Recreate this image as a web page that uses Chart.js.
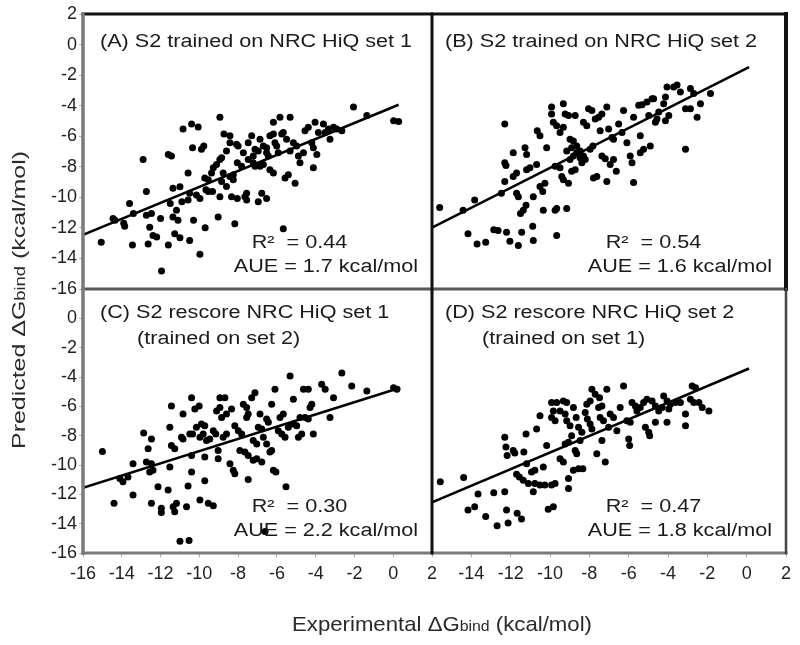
<!DOCTYPE html>
<html><head><meta charset="utf-8">
<script src="https://cdn.jsdelivr.net/npm/chart.js@4.4.1/dist/chart.umd.min.js"></script>
<style>html,body{margin:0;background:#fff}canvas{display:block}</style>
</head><body>
<canvas id="c" width="800" height="645"></canvas>
<script>
// experimental (x) vs predicted (y), kcal/mol
const setA=[[-15.06,-12.94],[-14.45,-11.39],[-14.35,-11.5],[-13.9,-11.7],[-13.85,-11.9],[-13.45,-13.12],[-13.6,-10.4],[-13.4,-11.06],[-12.9,-7.52],[-12.73,-9.62],[-12.73,-11.17],[-12.64,-13.05],[-12.56,-11.95],[-12.47,-11.06],[-12.39,-12.5],[-12.2,-12.6],[-11.95,-14.82],[-12.0,-11.39],[-11.6,-13.12],[-11.6,-7.19],[-11.44,-7.3],[-11.5,-10.4],[-11.36,-9.4],[-11.0,-9.3],[-11.36,-11.28],[-11.27,-12.39],[-11.0,-12.65],[-11.18,-10.84],[-11.1,-11.5],[-10.9,-10.29],[-10.84,-5.53],[-10.58,-8.4],[-10.58,-10.18],[-10.5,-9.73],[-10.5,-12.83],[-10.4,-5.2],[-10.06,-5.4],[-10.35,-6.75],[-10.3,-11.5],[-10.15,-9.84],[-9.97,-10.07],[-9.97,-13.72],[-9.89,-6.86],[-9.77,-6.64],[-9.7,-11.99],[-9.72,-8.74],[-9.54,-8.85],[-9.66,-9.51],[-9.54,-9.62],[-9.32,-9.62],[-9.37,-8.4],[-9.28,-8.07],[-9.11,-7.85],[-9.03,-11.28],[-8.94,-7.52],[-8.85,-7.41],[-8.94,-9.96],[-8.94,-4.76],[-8.85,-8.96],[-8.6,-9.29],[-8.77,-8.4],[-8.73,-5.86],[-8.42,-5.97],[-8.6,-6.97],[-8.42,-6.42],[-8.42,-8.63],[-8.25,-8.52],[-8.34,-9.96],[-8.25,-8.85],[-8.17,-11.73],[-8.08,-6.53],[-8.0,-6.64],[-8.04,-7.74],[-8.04,-10.07],[-7.82,-7.96],[-7.73,-7.08],[-7.65,-9.96],[-7.56,-9.73],[-7.56,-10.18],[-7.48,-6.42],[-7.3,-5.97],[-7.48,-7.52],[-7.22,-7.3],[-7.22,-7.74],[-7.13,-7.96],[-7.13,-6.86],[-6.96,-6.97],[-6.96,-10.29],[-6.87,-6.2],[-6.87,-7.96],[-6.7,-7.85],[-6.78,-9.73],[-6.53,-10.07],[-6.7,-6.64],[-6.53,-6.75],[-6.53,-7.08],[-6.44,-7.3],[-6.36,-5.97],[-6.18,-5.86],[-6.36,-8.19],[-6.18,-8.4],[-6.18,-5.09],[-6.1,-6.42],[-6.01,-6.64],[-5.93,-7.08],[-5.84,-4.76],[-5.32,-4.76],[-5.75,-5.86],[-5.67,-5.75],[-5.67,-12.06],[-5.58,-8.74],[-5.41,-8.52],[-5.5,-6.2],[-5.32,-6.97],[-5.06,-9.07],[-5.15,-6.42],[-4.98,-6.64],[-4.89,-7.3],[-4.81,-7.74],[-4.63,-7.08],[-4.55,-5.64],[-4.38,-5.42],[-4.2,-6.42],[-4.12,-6.75],[-4.12,-8.07],[-4.03,-5.09],[-3.94,-7.19],[-3.86,-5.75],[-3.6,-5.2],[-3.51,-5.75],[-3.34,-5.53],[-3.26,-6.2],[-3.08,-5.42],[-2.91,-5.53],[-2.65,-5.64],[-2.05,-4.09],[-1.36,-4.65],[0.02,-4.98],[0.28,-5.04]];
const setB=[[-15.61,-10.66],[-14.42,-10.84],[-13.83,-10.18],[-14.17,-12.39],[-13.71,-13.05],[-13.27,-12.94],[-12.86,-12.12],[-12.64,-12.17],[-12.47,-9.73],[-12.3,-5.2],[-12.3,-7.74],[-12.24,-7.92],[-12.3,-8.96],[-11.87,-8.63],[-12.21,-12.28],[-12.04,-12.88],[-11.61,-13.16],[-11.87,-7.08],[-11.7,-8.4],[-11.7,-9.73],[-11.61,-9.96],[-11.44,-12.28],[-11.36,-10.84],[-11.22,-10.51],[-11.5,-11.06],[-11.27,-6.75],[-11.19,-7.19],[-11.19,-8.19],[-11.02,-8.07],[-10.88,-11.9],[-10.85,-9.96],[-10.85,-12.83],[-10.68,-7.85],[-10.65,-5.64],[-10.51,-5.97],[-10.51,-9.29],[-10.37,-9.62],[-10.34,-10.84],[-10.26,-9.07],[-10.17,-6.75],[-9.92,-4.09],[-9.92,-4.54],[-9.83,-5.09],[-9.66,-5.31],[-9.74,-10.84],[-9.66,-10.73],[-9.74,-7.96],[-9.49,-8.07],[-9.66,-12.5],[-9.49,-5.75],[-9.32,-5.42],[-9.32,-3.87],[-9.23,-4.54],[-9.06,-4.65],[-9.4,-8.63],[-9.32,-8.85],[-9.15,-10.73],[-9.15,-6.97],[-8.9,-6.75],[-9.06,-9.07],[-8.98,-6.2],[-8.81,-6.31],[-8.98,-7.52],[-8.81,-7.3],[-8.64,-7.08],[-8.9,-8.3],[-8.72,-8.19],[-8.72,-4.65],[-8.64,-6.64],[-8.47,-6.97],[-8.47,-7.41],[-8.3,-7.3],[-8.38,-7.74],[-8.21,-7.52],[-8.3,-5.09],[-8.13,-5.31],[-8.04,-4.2],[-7.87,-4.31],[-7.96,-6.86],[-7.82,-6.64],[-7.79,-8.74],[-7.62,-8.63],[-7.7,-4.87],[-7.53,-4.76],[-7.45,-5.64],[-7.36,-7.3],[-7.19,-7.48],[-7.36,-4.54],[-7.11,-8.96],[-7.11,-4.09],[-7.02,-5.53],[-6.85,-6.08],[-6.77,-6.2],[-6.94,-7.85],[-6.77,-7.52],[-6.63,-8.3],[-6.51,-5.2],[-6.34,-5.75],[-6.26,-4.31],[-6.09,-6.42],[-5.92,-7.3],[-5.83,-7.74],[-5.75,-9.03],[-5.75,-4.76],[-5.49,-3.98],[-5.32,-3.94],[-5.41,-5.97],[-5.41,-7.08],[-5.24,-6.86],[-5.07,-3.76],[-4.81,-3.54],[-4.98,-4.65],[-4.9,-6.64],[-4.73,-3.54],[-4.64,-5.09],[-4.56,-4.87],[-4.47,-4.42],[-4.22,-3.87],[-4.13,-3.43],[-4.05,-2.77],[-4.13,-4.98],[-3.96,-4.65],[-3.71,-2.77],[-3.54,-2.65],[-3.37,-3.1],[-3.11,-6.86],[-3.11,-4.2],[-2.86,-4.2],[-2.86,-2.87],[-2.69,-3.21],[-2.52,-4.76],[-2.35,-3.87],[-1.84,-3.21]];
const setC=[[-15.0,-9.08],[-14.4,-12.61],[-14.1,-10.92],[-13.94,-11.15],[-13.68,-10.81],[-13.42,-9.91],[-13.42,-12.05],[-12.87,-7.82],[-12.73,-9.8],[-12.47,-9.91],[-12.64,-8.9],[-12.56,-10.47],[-12.39,-10.36],[-12.47,-8.22],[-12.47,-12.61],[-12.13,-11.49],[-11.96,-12.95],[-11.96,-13.24],[-11.61,-11.71],[-11.52,-10.14],[-11.44,-5.97],[-11.52,-7.43],[-11.44,-8.67],[-11.27,-8.9],[-11.35,-12.84],[-11.27,-13.18],[-11.18,-12.61],[-11.0,-15.2],[-10.53,-15.14],[-10.92,-8.11],[-10.84,-8.22],[-10.84,-6.53],[-10.66,-12.84],[-10.58,-11.44],[-10.49,-7.88],[-10.35,-7.88],[-10.4,-5.41],[-10.4,-10.47],[-10.4,-9.35],[-10.23,-6.19],[-10.01,-5.97],[-10.15,-7.43],[-9.97,-8.11],[-9.8,-7.88],[-9.97,-12.39],[-9.89,-7.2],[-9.72,-7.32],[-9.72,-11.08],[-9.72,-9.46],[-9.63,-8.33],[-9.46,-8.22],[-9.54,-12.61],[-9.28,-12.77],[-9.28,-7.66],[-9.15,-7.88],[-9.11,-6.31],[-8.94,-6.08],[-9.03,-9.01],[-9.03,-9.57],[-8.94,-5.41],[-8.68,-5.41],[-8.85,-6.76],[-8.6,-6.53],[-8.77,-8.11],[-8.6,-7.88],[-8.42,-9.91],[-8.25,-10.36],[-8.34,-6.19],[-8.17,-7.32],[-8.17,-10.59],[-7.99,-7.66],[-7.82,-7.88],[-7.91,-9.01],[-7.73,-5.86],[-7.56,-6.08],[-7.65,-9.12],[-7.48,-9.35],[-7.56,-6.76],[-7.48,-6.53],[-7.48,-10.99],[-7.3,-5.41],[-7.13,-5.07],[-7.22,-8.33],[-7.04,-8.56],[-7.22,-9.68],[-7.04,-9.57],[-6.96,-7.43],[-6.78,-7.54],[-6.87,-6.53],[-6.78,-9.8],[-6.7,-8.11],[-6.53,-8.56],[-6.61,-14.53],[-6.53,-6.87],[-6.44,-7.09],[-6.36,-9.12],[-6.27,-9.01],[-6.27,-5.86],[-6.18,-10.36],[-6.05,-10.47],[-6.1,-4.84],[-5.93,-7.66],[-5.84,-6.76],[-5.67,-6.53],[-5.75,-7.88],[-5.58,-8.11],[-5.53,-11.49],[-5.41,-7.43],[-5.32,-3.94],[-5.15,-5.52],[-5.15,-7.2],[-4.98,-7.32],[-4.89,-8.11],[-4.72,-7.88],[-4.81,-6.76],[-4.63,-4.84],[-4.38,-4.84],[-4.55,-6.76],[-4.38,-6.87],[-4.29,-6.08],[-4.2,-5.86],[-4.12,-7.88],[-3.69,-4.5],[-3.51,-4.84],[-3.26,-6.76],[-3.08,-5.41],[-2.65,-3.72],[-2.14,-4.62],[-1.36,-4.95],[0.02,-4.73],[0.19,-4.84]];
const setD=[[-15.58,-11.15],[-14.39,-10.86],[-14.17,-13.06],[-13.83,-12.84],[-13.66,-11.98],[-13.27,-13.51],[-12.86,-11.89],[-12.69,-14.14],[-12.13,-13.96],[-12.3,-11.82],[-12.3,-8.11],[-12.24,-8.78],[-12.18,-9.35],[-12.21,-13.06],[-11.87,-9.01],[-11.79,-9.19],[-11.67,-13.29],[-11.45,-13.69],[-11.7,-10.63],[-11.56,-10.81],[-11.33,-9.12],[-11.22,-7.88],[-11.19,-9.91],[-11.36,-11.04],[-11.1,-11.26],[-10.94,-10.47],[-10.77,-10.36],[-10.85,-11.82],[-10.68,-7.54],[-10.77,-11.26],[-10.51,-11.37],[-10.51,-6.64],[-10.34,-10.14],[-10.26,-11.37],[-9.92,-11.37],[-9.74,-11.26],[-10.17,-8.67],[-10.09,-13.02],[-9.83,-12.84],[-9.92,-6.76],[-9.74,-6.98],[-9.92,-5.74],[-9.66,-5.74],[-9.83,-6.31],[-9.49,-9.57],[-9.32,-9.8],[-9.49,-6.31],[-9.23,-6.53],[-9.32,-5.63],[-9.15,-5.74],[-9.23,-8.56],[-9.06,-8.45],[-9.15,-6.98],[-8.98,-7.32],[-9.06,-10.92],[-9.06,-11.6],[-8.9,-8.0],[-8.81,-6.08],[-8.67,-6.76],[-8.81,-10.36],[-8.55,-10.25],[-8.33,-10.25],[-8.72,-9.01],[-8.64,-9.23],[-8.55,-7.43],[-8.38,-7.77],[-8.47,-8.33],[-8.21,-6.42],[-8.1,-6.87],[-8.13,-5.86],[-7.96,-5.63],[-7.96,-7.2],[-7.87,-7.54],[-7.87,-4.84],[-7.7,-5.18],[-7.48,-5.41],[-7.62,-9.23],[-7.53,-6.08],[-7.36,-5.97],[-7.45,-6.76],[-7.28,-6.98],[-7.36,-8.33],[-7.19,-9.8],[-7.11,-4.84],[-7.02,-7.43],[-6.94,-6.53],[-6.77,-6.76],[-6.6,-7.66],[-6.43,-6.08],[-6.26,-4.62],[-6.09,-6.98],[-5.92,-7.09],[-6.0,-8.22],[-5.95,-8.67],[-5.83,-5.74],[-5.66,-5.97],[-5.58,-6.31],[-5.41,-6.08],[-5.24,-5.74],[-5.07,-5.52],[-5.15,-7.43],[-4.98,-7.77],[-4.93,-8.0],[-4.81,-5.63],[-4.64,-5.97],[-4.64,-7.09],[-4.47,-6.31],[-4.3,-6.08],[-4.22,-5.29],[-4.05,-5.63],[-4.05,-7.09],[-3.96,-6.19],[-3.88,-5.86],[-3.62,-5.74],[-3.37,-5.74],[-3.11,-6.53],[-3.11,-7.32],[-2.86,-5.52],[-2.69,-5.74],[-2.77,-4.62],[-2.6,-4.73],[-2.43,-5.74],[-2.26,-6.08],[-1.92,-6.31]];

// regression line end points as drawn
const fitA=[[-16,-12.46],[0.28,-3.94]];
const fitB=[[-16,-11.99],[0.12,-1.48]];
const fitC=[[-16,-11.55],[0.36,-4.73]];
const fitD=[[-16,-12.55],[0.12,-3.42]];

const titles=[['(A) S2 trained on NRC HiQ set 1'],['(B) S2 trained on NRC HiQ set 2'],['(C) S2 rescore NRC HiQ set 1','(trained on set 2)'],['(D) S2 rescore NRC HiQ set 2','(trained on set 1)']];
const r2=['0.44','0.54','0.30','0.47'];
const aue=['1.7','1.6','2.2','1.8'];
const axisX=['Experimental \u0394G','bind',' (kcal/mol)'];
const axisY=['Predicted \u0394G','bind',' (kcal/mol)'];

const FF='"Liberation Sans", Arial, sans-serif';
const ink='#1a1a1a';
const pts=a=>a.map(p=>({x:p[0],y:p[1]}));

// draw runs of text with different sizes, optional horizontal stretch or fit width
function put(c,parts,x,y,o){
 c.save();c.translate(x,y);if(o.rot)c.rotate(o.rot);
 let w=0;parts.forEach(p=>{c.font=p[1]+'px '+FF;w+=c.measureText(p[0]).width});
 const sx=o.fit?o.fit/w:(o.sx||1);c.scale(sx,1);
 let cx=o.align==='right'?-w:o.align==='center'?-w/2:0;
 c.fillStyle=o.col||ink;c.textBaseline='alphabetic';
 parts.forEach(p=>{c.font=p[1]+'px '+FF;c.fillText(p[0],cx,0);cx+=c.measureText(p[0]).width});
 c.restore();return w*sx;
}

const deco={id:'deco',afterDatasetsDraw(ch){
 const c=ch.ctx,s=ch.scales;
 const L=s.xA.left,M=s.xA.right,R=s.xB.right,T=s.yT.top,H=s.yT.bottom,B=s.yB.bottom;
 const seg=(x1,y1,x2,y2,col,w)=>{c.beginPath();c.moveTo(x1,y1);c.lineTo(x2,y2);c.strokeStyle=col;c.lineWidth=w;c.stroke()};
 c.save();c.lineCap='square';
 seg(L,H,R,H,'#5a5a5a',3);
 seg(L,B,R,B,'#7a7a7a',3);
 seg(L,T,R,T,'#111',3);
 seg(L,T,L,B,'#7a7a7a',3.5);
 seg(M,T,M,B,'#111',3);
 seg(R,T,R,H,'#111',4);
 seg(R,H,R,B,'#444',2.5);
 c.restore();
 const pan=[[s.xA,s.yT,17,33],[s.xB,s.yT,13,33],[s.xA,s.yB,17,29],[s.xB,s.yB,13,29]];
 pan.forEach((p,i)=>{
  const [xs,ys,dx,dy]=p;
  put(c,[[titles[i][0],18]],xs.left+dx,ys.top+dy,{sx:1.2});
  if(titles[i][1])put(c,[[titles[i][1],18]],xs.left+dx+37,ys.top+dy+26,{sx:1.2});
  const w=put(c,[['AUE = '+aue[i]+' kcal/mol',18]],xs.right-14,ys.bottom-17,{sx:1.2,align:'right'});
  put(c,[['R\u00B2  = '+r2[i],18]],xs.right-14-w+18,ys.bottom-41,{sx:1.2});
 });
 put(c,[[axisX[0],21],[axisX[1],15],[axisX[2],21]],442,631,{fit:300,align:'center',col:'#2a2a2a'});
 put(c,[[axisY[0],19],[axisY[1],14],[axisY[2],19]],25,300,{fit:298,align:'center',rot:-Math.PI/2,col:'#2a2a2a'});
}};

const tickFont={family:FF,size:18};
function axis(pos,w,hide,order){
 return {type:'linear',position:pos,stack:pos,stackWeight:w,weight:order,min:-16,max:2,
  border:{display:false},grid:{drawOnChartArea:false,tickLength:4,color:'#b0b0b0'},
  ticks:{stepSize:2,autoSkip:false,maxRotation:0,font:tickFont,color:'#222',padding:pos==='left'?2:6,
   callback:v=>v===hide?'':v},
  afterFit:sc=>{if(pos==='left')sc.width=83;else sc.height=92;}};
}
const dot=(d,x,y)=>({data:pts(d),xAxisID:x,yAxisID:y,pointRadius:3.5,pointBackgroundColor:'#000',pointBorderWidth:0,showLine:false});
const fit=(d,x,y)=>({data:pts(d),xAxisID:x,yAxisID:y,pointRadius:0,borderColor:'#000',borderWidth:2.5,showLine:true});

new Chart(document.getElementById('c'),{type:'scatter',
 data:{datasets:[dot(setA,'xA','yT'),dot(setB,'xB','yT'),dot(setC,'xA','yB'),dot(setD,'xB','yB'),
  fit(fitA,'xA','yT'),fit(fitB,'xB','yT'),fit(fitC,'xA','yB'),fit(fitD,'xB','yB')]},
 options:{responsive:false,animation:false,events:[],layout:{padding:{top:14,right:14,left:0,bottom:0}},
  plugins:{legend:{display:false},tooltip:{enabled:false}},
  scales:{xA:axis('bottom',349,null,0),xB:axis('bottom',354,-16,1),yT:axis('left',275,null,1),yB:axis('left',264,2,0)}},
 plugins:[deco]});
</script>
</body></html>
